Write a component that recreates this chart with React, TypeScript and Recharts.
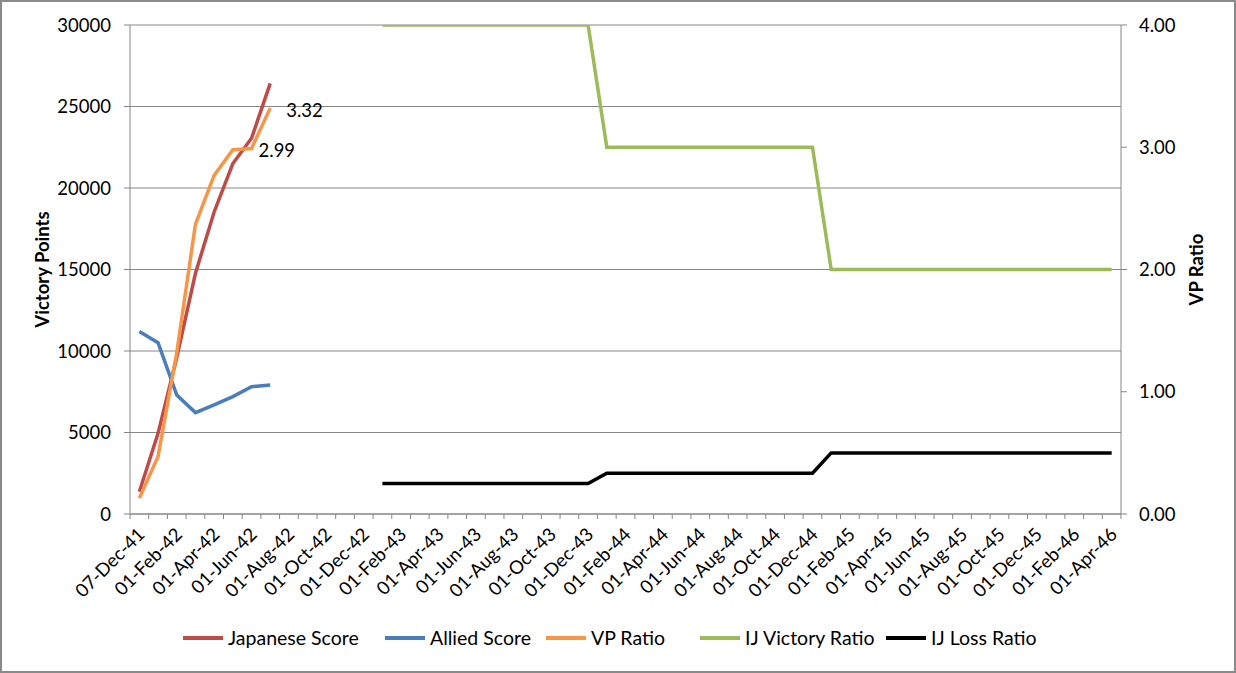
import React from "react";
import {
  LineChart,
  Line,
  XAxis,
  YAxis,
  CartesianGrid,
  Legend,
  LabelList,
} from "recharts";

const months = [
  "07-Dec-41",
  "01-Jan-42", "01-Feb-42", "01-Mar-42", "01-Apr-42", "01-May-42", "01-Jun-42",
  "01-Jul-42", "01-Aug-42", "01-Sep-42", "01-Oct-42", "01-Nov-42", "01-Dec-42",
  "01-Jan-43", "01-Feb-43", "01-Mar-43", "01-Apr-43", "01-May-43", "01-Jun-43",
  "01-Jul-43", "01-Aug-43", "01-Sep-43", "01-Oct-43", "01-Nov-43", "01-Dec-43",
  "01-Jan-44", "01-Feb-44", "01-Mar-44", "01-Apr-44", "01-May-44", "01-Jun-44",
  "01-Jul-44", "01-Aug-44", "01-Sep-44", "01-Oct-44", "01-Nov-44", "01-Dec-44",
  "01-Jan-45", "01-Feb-45", "01-Mar-45", "01-Apr-45", "01-May-45", "01-Jun-45",
  "01-Jul-45", "01-Aug-45", "01-Sep-45", "01-Oct-45", "01-Nov-45", "01-Dec-45",
  "01-Jan-46", "01-Feb-46", "01-Mar-46", "01-Apr-46",
];

// first 8 months only
const japaneseScore = [1370, 4950, 9600, 14770, 18530, 21500, 23050, 26420];
const alliedScore = [11190, 10510, 7300, 6220, 6690, 7200, 7810, 7910];
const vpRatio = [0.13, 0.47, 1.32, 2.37, 2.77, 2.98, 2.99, 3.32];

// Jan-43 .. Apr-46
const ijVictoryRatio = [
  4, 4, 4, 4, 4, 4, 4, 4, 4, 4, 4, 4,
  3, 3, 3, 3, 3, 3, 3, 3, 3, 3, 3, 3,
  2, 2, 2, 2, 2, 2, 2, 2, 2, 2, 2, 2, 2, 2, 2, 2,
];
const ijLossRatio = [
  0.25, 0.25, 0.25, 0.25, 0.25, 0.25, 0.25, 0.25, 0.25, 0.25, 0.25, 0.25,
  0.333, 0.333, 0.333, 0.333, 0.333, 0.333, 0.333, 0.333, 0.333, 0.333, 0.333, 0.333,
  0.5, 0.5, 0.5, 0.5, 0.5, 0.5, 0.5, 0.5, 0.5, 0.5, 0.5, 0.5, 0.5, 0.5, 0.5, 0.5,
];
const ijStart = 13;

const leftTicks = [0, 5000, 10000, 15000, 20000, 25000, 30000];
const rightTicks = [0, 1, 2, 3, 4];

const data = months.map((label, i) => ({
  label,
  japanese: i < japaneseScore.length ? japaneseScore[i] : null,
  allied: i < alliedScore.length ? alliedScore[i] : null,
  vp: i < vpRatio.length ? vpRatio[i] : null,
  ijVictory: i >= ijStart ? ijVictoryRatio[i - ijStart] : null,
  ijLoss: i >= ijStart ? ijLossRatio[i - ijStart] : null,
}));

const FONT = "Lato, 'Open Sans', sans-serif";
const FS = 18.5;
const GRID = "#868686";
const W = 1236;
const H = 673;
const PLOT_W = W - 130 - 115;
const STEP = PLOT_W / months.length;

const legendItems = [
  { name: "Japanese Score", color: "#BE4B48", left: 183 },
  { name: "Allied Score", color: "#4A7EBB", left: 385 },
  { name: "VP Ratio", color: "#F79646", left: 546 },
  { name: "IJ Victory Ratio", color: "#9BBB59", left: 700 },
  { name: "IJ Loss Ratio", color: "#000000", left: 886 },
];

function DateTick(props: any) {
  const { x, y, index, payload } = props;
  const last = index === months.length - 1;
  return (
    <g>
      <line x1={x - STEP / 2} x2={x - STEP / 2} y1={y} y2={y + 5} stroke={GRID} />
      {last && (
        <line x1={x + STEP / 2} x2={x + STEP / 2} y1={y} y2={y + 5} stroke={GRID} />
      )}
      {index % 2 === 0 && (
        <text
          transform={`translate(${x + 2},${y + 17}) rotate(-45)`}
          textAnchor="end"
          dy="0.35em"
          fontSize={FS}
          fontFamily={FONT}
          fill="#000"
        >
          {payload.value}
        </text>
      )}
    </g>
  );
}

function ChartLegend() {
  return (
    <div style={{ position: "relative", height: 45, fontFamily: FONT, fontSize: 19.5 }}>
      {legendItems.map((it) => (
        <div
          key={it.name}
          style={{
            position: "absolute",
            left: it.left,
            top: 8,
            display: "flex",
            alignItems: "center",
            whiteSpace: "nowrap",
          }}
        >
          <span
            style={{
              display: "inline-block",
              width: 40,
              height: 4,
              background: it.color,
              marginRight: 5,
            }}
          />
          <span>{it.name}</span>
        </div>
      ))}
    </div>
  );
}

function VpLabel(props: any) {
  const { x, y, index, value } = props;
  if (index !== 6 && index !== 7) return null;
  return (
    <text
      x={x + (index === 7 ? 16 : 7)}
      y={y + 2}
      dy="0.35em"
      fontSize={FS}
      fontFamily={FONT}
      fill="#000"
    >
      {Number(value).toFixed(2)}
    </text>
  );
}

export default function App() {
  return (
    <div
      style={{
        position: "absolute",
        left: 0,
        top: 0,
        width: W,
        height: H,
        border: "2px solid #8a8a8a",
        boxSizing: "border-box",
        background: "#fff",
      }}
    >
      <div style={{ position: "absolute", left: -2, top: -2 }}>
        <LineChart
          width={W}
          height={H}
          data={data}
          margin={{ top: 25, right: 0, left: 0, bottom: 10 }}
        >
          <CartesianGrid yAxisId="left" vertical={false} stroke={GRID} />
          <XAxis
            dataKey="label"
            interval={0}
            height={104}
            padding={{ left: STEP / 2, right: STEP / 2 }}
            tickSize={0}
            tickMargin={0}
            tickLine={false}
            axisLine={{ stroke: GRID }}
            tick={<DateTick />}
          />
          <YAxis
            yAxisId="left"
            width={130}
            domain={[0, 30000]}
            ticks={leftTicks}
            tickSize={6}
            tickMargin={13}
            axisLine={{ stroke: GRID }}
            tickLine={{ stroke: GRID }}
            tick={{ fill: "#000", fontSize: FS, fontFamily: FONT }}
            label={{
              value: "Victory Points",
              angle: -90,
              position: "insideLeft",
              offset: 42,
              style: { fontWeight: 700, fontSize: FS, fontFamily: FONT, fill: "#000", textAnchor: "middle" },
            }}
          />
          <YAxis
            yAxisId="right"
            orientation="right"
            width={115}
            domain={[0, 4]}
            ticks={rightTicks}
            allowDataOverflow
            tickSize={6}
            tickMargin={12}
            tickFormatter={(v: number) => v.toFixed(2)}
            axisLine={{ stroke: GRID }}
            tickLine={{ stroke: GRID }}
            tick={{ fill: "#000", fontSize: FS, fontFamily: FONT }}
            label={{
              value: "VP Ratio",
              angle: -90,
              position: "insideRight",
              offset: 40,
              style: { fontWeight: 700, fontSize: FS, fontFamily: FONT, fill: "#000", textAnchor: "middle" },
            }}
          />
          <Legend verticalAlign="bottom" height={45} content={<ChartLegend />} />
          <Line
            yAxisId="left"
            dataKey="japanese"
            name="Japanese Score"
            stroke="#BE4B48"
            strokeWidth={3.5}
            dot={false}
            isAnimationActive={false}
          />
          <Line
            yAxisId="left"
            dataKey="allied"
            name="Allied Score"
            stroke="#4A7EBB"
            strokeWidth={3.5}
            dot={false}
            isAnimationActive={false}
          />
          <Line
            yAxisId="right"
            dataKey="vp"
            name="VP Ratio"
            stroke="#F79646"
            strokeWidth={3.5}
            dot={false}
            isAnimationActive={false}
          >
            <LabelList dataKey="vp" content={<VpLabel />} />
          </Line>
          <Line
            yAxisId="right"
            dataKey="ijVictory"
            name="IJ Victory Ratio"
            stroke="#9BBB59"
            strokeWidth={3.5}
            dot={false}
            isAnimationActive={false}
          />
          <Line
            yAxisId="right"
            dataKey="ijLoss"
            name="IJ Loss Ratio"
            stroke="#000000"
            strokeWidth={3.5}
            dot={false}
            isAnimationActive={false}
          />
        </LineChart>
      </div>
    </div>
  );
}
